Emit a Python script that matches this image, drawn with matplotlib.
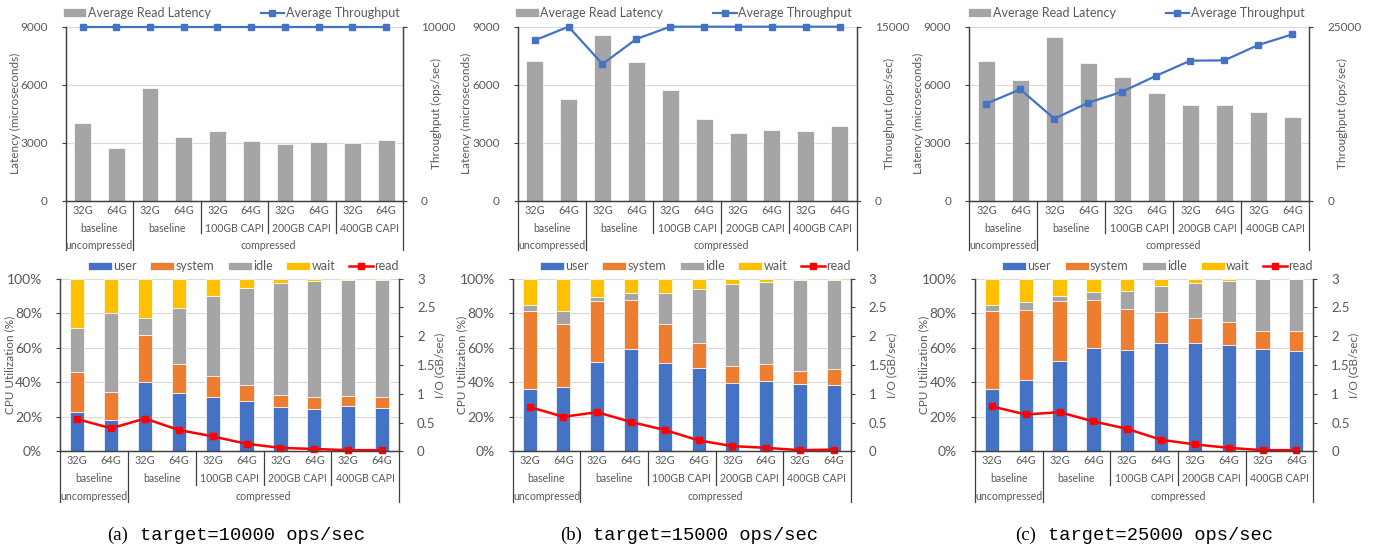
import matplotlib
matplotlib.use('Agg')
from matplotlib import pyplot as plt
from matplotlib import transforms
import numpy as np

plt.rcParams['font.family'] = ['Lato', 'DejaVu Sans']

mem = ['32G', '64G'] * 5
groups = ['baseline', 'baseline', '100GB CAPI', '200GB CAPI', '400GB CAPI']
tops = ['uncompressed', 'compressed']

targets = ['10000', '15000', '25000']
letters = ['(a)', '(b)', '(c)']

lat_a = [4000, 2700, 5830, 3320, 3600, 3080, 2930, 3030, 2980, 3150]
thr_a = [10000] * 10
lat_b = [7240, 5270, 8550, 7190, 5720, 4220, 3480, 3650, 3600, 3880]
thr_b = [13820, 15000, 11780, 13940, 15000, 15000, 15000, 15000, 15000, 15000]
lat_c = [7240, 6240, 8480, 7140, 6400, 5550, 4930, 4930, 4600, 4330]
thr_c = [13940, 16000, 11780, 14080, 15660, 17960, 20120, 20160, 22370, 23900]
thr_max = [10000, 15000, 25000]

user_a = [22.8, 18.1, 40.3, 34.0, 31.7, 29.0, 25.9, 24.5, 26.4, 25.3]
sys_a = [23.1, 16.5, 27.1, 16.8, 12.1, 9.4, 6.7, 7.0, 5.8, 6.2]
idle_a = [25.7, 45.3, 10.0, 32.2, 46.4, 56.4, 65.1, 67.3, 67.0, 67.7]
wait_a = [28.4, 20.1, 22.6, 17.0, 9.8, 5.2, 2.3, 1.2, 0.8, 0.8]
read_a = [0.56, 0.40, 0.57, 0.37, 0.26, 0.13, 0.06, 0.04, 0.02, 0.02]

user_b = [36.0, 37.5, 51.9, 59.4, 51.2, 48.1, 39.4, 40.6, 38.8, 38.3]
sys_b = [45.2, 36.3, 35.0, 28.1, 22.6, 14.4, 10.0, 10.0, 7.5, 9.4]
idle_b = [3.8, 7.4, 2.5, 4.4, 18.1, 31.7, 47.7, 47.7, 53.1, 51.7]
wait_b = [15.0, 18.8, 10.6, 8.1, 8.1, 5.8, 2.9, 1.7, 0.6, 0.6]
read_b = [0.77, 0.60, 0.68, 0.51, 0.37, 0.19, 0.09, 0.06, 0.02, 0.03]

user_c = [35.9, 41.5, 52.3, 60.0, 58.5, 62.9, 62.9, 61.6, 59.3, 57.9]
sys_c = [45.2, 40.2, 35.0, 27.8, 23.7, 17.6, 14.5, 13.5, 10.6, 11.6]
idle_c = [3.8, 5.0, 2.9, 4.7, 10.9, 15.3, 20.1, 23.7, 29.9, 30.3]
wait_c = [15.1, 13.3, 9.8, 7.5, 6.9, 4.2, 2.5, 1.2, 0.2, 0.2]
read_c = [0.78, 0.64, 0.68, 0.52, 0.39, 0.20, 0.12, 0.06, 0.02, 0.02]

GRAY = '#A5A5A5'
BLUE = '#4472C4'
ORANGE = '#ED7D31'
GOLD = '#FFC000'
RED = '#FF0000'
TXT = '#595959'
GRID = '#D9D9D9'
AXC = '#404040'

W, H = 1380, 548


def px_axes(fig, x0, x1, ytop, ybot):
    return fig.add_axes([x0 / W, 1 - ybot / H, (x1 - x0) / W, (ybot - ytop) / H])


def style(ax, ax2):
    for a in (ax, ax2):
        a.spines['top'].set_visible(False)
        for s in ('left', 'right', 'bottom'):
            a.spines[s].set_color(AXC)
            a.spines[s].set_linewidth(0.9)
    ax.set_xlim(-0.5, 9.5)
    ax.set_xticks([])
    ax.yaxis.grid(True, color=GRID, linewidth=0.8)
    ax.set_axisbelow(True)
    ax.tick_params(axis='y', colors=AXC, labelcolor=TXT, length=3, width=0.8, pad=10)
    ax2.tick_params(axis='y', colors=AXC, labelcolor=TXT, length=3, width=0.8, labelsize=8.5, pad=10)


def ylabels(ax, left, right, xl, xr):
    ax.text(xl, 0.5, left, transform=ax.transAxes, rotation=90, ha='center', va='center',
            fontsize=8.5, color=TXT)
    ax.text(xr, 0.5, right, transform=ax.transAxes, rotation=90, ha='center', va='center',
            fontsize=8.5, color=TXT)


def category_table(ax, rows, lv2, lv3):
    tr = transforms.blended_transform_factory(ax.transData, ax.transAxes)
    x = np.arange(10)
    for i in range(10):
        ax.text(x[i], rows[0], mem[i], transform=tr, ha='center', va='center', fontsize=7.8, color=TXT)
    for g in range(5):
        ax.text(2 * g + 0.5, rows[1], groups[g], transform=tr, ha='center', va='center', fontsize=7.6, color=TXT)
    ax.text(0.5, rows[2], tops[0], transform=tr, ha='center', va='center', fontsize=7.6, color=TXT)
    ax.text(5.5, rows[2], tops[1], transform=tr, ha='center', va='center', fontsize=7.6, color=TXT)
    for xs in (-0.5, 1.5, 9.5):
        ax.plot([xs, xs], [0, lv3], transform=tr, color=AXC, lw=0.9, clip_on=False)
    for xs in (3.5, 5.5, 7.5):
        ax.plot([xs, xs], [0, lv2], transform=tr, color=AXC, lw=0.9, clip_on=False)


def top_chart(fig, xpos, lat, thr, tmax):
    ax = px_axes(fig, xpos[0], xpos[1], 26.7, 200.7)
    ax2 = ax.twinx()
    x = np.arange(10)
    b = ax.bar(x, lat, width=0.5, color=GRAY, edgecolor='white', linewidth=0.5)
    l, = ax2.plot(x, thr, color=BLUE, lw=1.6, marker='s', markersize=4, clip_on=False)
    ax.set_ylim(0, 9000)
    ax.set_yticks([0, 3000, 6000, 9000])
    ax.tick_params(axis='y', labelsize=8.5)
    ax2.set_ylim(0, tmax)
    ax2.set_yticks([0, tmax])
    style(ax, ax2)
    ylabels(ax, 'Latency (microseconds)', 'Throughput (ops/sec)', -0.150, 1.098)
    ax.legend([b, l], ['Average Read Latency', 'Average Throughput'], ncol=2,
              loc='lower center', bbox_to_anchor=(0.49, 1.0), frameon=False,
              fontsize=9, labelcolor=TXT, handlelength=1.9, handletextpad=0.1,
              columnspacing=4.0, borderaxespad=0.2)
    category_table(ax, (-0.059, -0.157, -0.255), -0.186, -0.285)


def bottom_chart(fig, xpos, user, sysv, idle, wait, read):
    ax = px_axes(fig, xpos[0], xpos[1], 278.7, 451.3)
    ax2 = ax.twinx()
    x = np.arange(10)
    user = np.array(user)
    sysv = np.array(sysv)
    idle = np.array(idle)
    wait = np.array(wait)
    kw = dict(width=0.42, edgecolor='white', linewidth=0.5)
    h1 = ax.bar(x, user, color=BLUE, **kw)
    h2 = ax.bar(x, sysv, bottom=user, color=ORANGE, **kw)
    h3 = ax.bar(x, idle, bottom=user + sysv, color=GRAY, **kw)
    h4 = ax.bar(x, wait, bottom=user + sysv + idle, color=GOLD, **kw)
    h5, = ax2.plot(x, read, color=RED, lw=1.8, marker='s', markersize=4.5, clip_on=False)
    ax.set_ylim(0, 100)
    ax.set_yticks(np.arange(0, 101, 20))
    ax.set_yticklabels(['%d%%' % v for v in range(0, 101, 20)])
    ax.tick_params(axis='y', labelsize=10)
    ax2.set_ylim(0, 3)
    ax2.set_yticks([0, 0.5, 1, 1.5, 2, 2.5, 3])
    ax2.set_yticklabels(['0', '0.5', '1', '1.5', '2', '2.5', '3'])
    style(ax, ax2)
    ax2.tick_params(axis='y', labelsize=9.5)
    ylabels(ax, 'CPU Utilization (%)', 'I/O (GB/sec)', -0.150, 1.121)
    ax.legend([h1, h2, h3, h4, h5], ['user', 'system', 'idle', 'wait', 'read'], ncol=5,
              loc='lower center', bbox_to_anchor=(0.54, 1.0), frameon=False,
              fontsize=9, labelcolor=TXT, handlelength=1.9, handletextpad=0.1,
              columnspacing=1.1, borderaxespad=0.1)
    category_table(ax, (-0.056, -0.159, -0.259), -0.195, -0.292)


def main():
    fig = plt.figure(figsize=(W / 100, H / 100), dpi=100)
    top_x = [(65.7, 403), (517.7, 856.7), (969.3, 1309.3)]
    bot_x = [(60.3, 399), (512.7, 850.7), (975, 1313.3)]
    lats = [lat_a, lat_b, lat_c]
    thrs = [thr_a, thr_b, thr_c]
    cpus = [(user_a, sys_a, idle_a, wait_a, read_a),
            (user_b, sys_b, idle_b, wait_b, read_b),
            (user_c, sys_c, idle_c, wait_c, read_c)]
    cap_x = [107, 560, 1015]
    for i in range(3):
        top_chart(fig, top_x[i], lats[i], thrs[i], thr_max[i])
        bottom_chart(fig, bot_x[i], *cpus[i])
        fig.text(cap_x[i] / W, 1 - 535 / H, letters[i], fontsize=13.5,
                 family='Liberation Serif', ha='left', va='center')
        fig.text((cap_x[i] + 33) / W, 1 - 535 / H, 'target=%s ops/sec' % targets[i],
                 fontsize=13.5, family='Liberation Mono', ha='left', va='center')
    fig.savefig('out.png', dpi=100)
    return 0


if __name__ == '__main__':
    main()
